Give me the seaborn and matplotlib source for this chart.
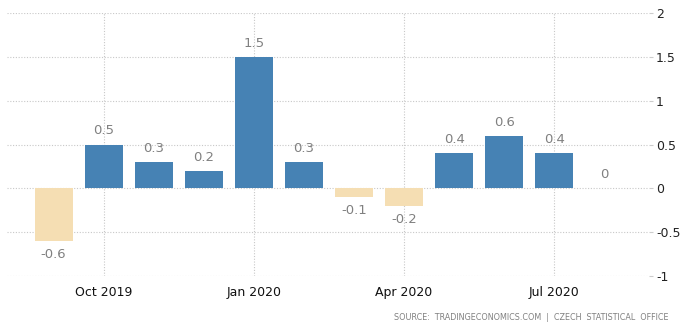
import matplotlib
matplotlib.use("Agg")
import matplotlib.pyplot as plt
import seaborn as sns
import pandas as pd

months = ["Sep 2019", "Oct 2019", "Nov 2019", "Dec 2019", "Jan 2020", "Feb 2020",
          "Mar 2020", "Apr 2020", "May 2020", "Jun 2020", "Jul 2020", "Aug 2020"]
values = [-0.6, 0.5, 0.3, 0.2, 1.5, 0.3, -0.1, -0.2, 0.4, 0.6, 0.4, 0.0]
value_labels = ["-0.6", "0.5", "0.3", "0.2", "1.5", "0.3", "-0.1", "-0.2", "0.4", "0.6", "0.4", "0"]
tick_months = ["Oct 2019", "Jan 2020", "Apr 2020", "Jul 2020"]
yticks = [-1, -0.5, 0, 0.5, 1, 1.5, 2]
ytick_labels = ["-1", "-0.5", "0", "0.5", "1", "1.5", "2"]

df = pd.DataFrame({"month": months, "value": values,
                   "sign": ["neg" if v < 0 else "pos" for v in values]})

sns.set_style("white")
plt.rcParams['font.family'] = ['DejaVu Sans']

fig = plt.figure(figsize=(6.86, 3.29), dpi=100)
ax = fig.add_axes([7/686, 53/329, (649-7)/686, (276-13)/329])

sns.barplot(data=df, x="month", y="value", hue="sign", order=months,
            palette={"pos": "#4682B4", "neg": "#F5DEB3"}, dodge=False,
            width=0.76, legend=False, ax=ax, saturation=1, linewidth=0)

ax.set_ylim(-1, 2)
ax.set_xlim(-0.93, 11.89)
ax.set_yticks(yticks)
ax.set_yticklabels(ytick_labels)
ax.yaxis.tick_right()
ax.tick_params(axis='y', length=3, color='#cccccc', labelsize=9, pad=2, labelcolor='#222222')
xt = [months.index(m) for m in tick_months]
ax.set_xticks(xt)
ax.set_xticklabels(tick_months)
ax.tick_params(axis='x', length=4, color='#cccccc', labelsize=9, pad=3, labelcolor='#111111')
ax.set_xlabel("")
ax.set_ylabel("")
for s in ax.spines.values():
    s.set_visible(False)
ax.grid(True, axis='both', color='#c8c8c8', linestyle=(0, (1, 1.5)), linewidth=0.8)
ax.set_axisbelow(True)

for i, (v, lab) in enumerate(zip(values, value_labels)):
    if v >= 0:
        ax.text(i, v + 0.08, lab, ha='center', va='bottom', fontsize=9.5, color='#808080')
    else:
        ax.text(i, v - 0.08, lab, ha='center', va='top', fontsize=9.5, color='#808080')

fig.text(668/686, 1 - 317/329, "SOURCE:  TRADINGECONOMICS.COM  |  CZECH  STATISTICAL  OFFICE",
         ha='right', va='center', fontsize=5.8, color='#808080')

fig.savefig("out.png", dpi=100)
